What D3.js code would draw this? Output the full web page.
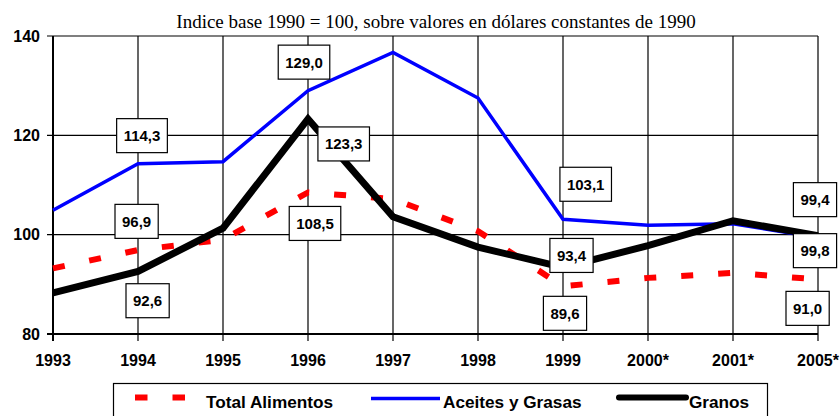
<!DOCTYPE html>
<html><head><meta charset="utf-8">
<script src="https://cdn.jsdelivr.net/npm/d3@7"></script>
<style>body{margin:0;background:#fff}svg{display:block}</style>
</head><body>
<script>
const categories = ["1993","1994","1995","1996","1997","1998","1999","2000*","2001*","2005*"];
const totalAlimentos = [93.2, 96.9, 99.0, 108.5, 107.2, 100.7, 89.6, 91.3, 92.3, 91.0];
const aceitesGrasas  = [104.9, 114.3, 114.7, 129.0, 136.7, 127.5, 103.1, 101.9, 102.2, 99.4];
const granos         = [88.3, 92.6, 101.3, 123.3, 103.6, 97.5, 93.4, 97.8, 102.8, 99.8];
const yTicks = [80, 100, 120, 140];
const title = "Indice base 1990 = 100, sobre valores en dólares constantes de 1990";
const seriesNames = ["Total Alimentos", "Aceites y Grasas", "Granos"];
// indices of labelled points for each series
const labelIdx = [1, 3, 6, 9];
// label box offsets (px) from the point, layout only
const labelOffsets = {
  "Total Alimentos": [[-1.4,-28.7],[7,31],[2,27],[-10.4,29]],
  "Aceites y Grasas": [[4,-28],[-4,-28.5],[22.7,-35],[-3,-38]],
  "Granos": [[9.6,29.3],[35.7,25],[8.5,-12],[-3,15]]
};

const W = 840, H = 416;
const m = {left: 53, right: 22, top: 36, bottom: 82};
const svg = d3.select("body").append("svg").attr("width", W).attr("height", H);

const x = d3.scalePoint().domain(categories).range([m.left, W - m.right]);
const y = d3.scaleLinear().domain([80, 140]).range([H - m.bottom, m.top]);

// title
svg.append("text").attr("x", 436).attr("y", 28).attr("text-anchor", "middle")
  .attr("font-family", "Liberation Serif, Times New Roman, serif").attr("font-size", 19)
  .text(title);

// grid
const g = svg.append("g");
g.selectAll("line.v").data(categories).join("line")
  .attr("x1", d => x(d)).attr("x2", d => x(d))
  .attr("y1", y(140)).attr("y2", y(80) + 7)
  .attr("stroke", "#000").attr("stroke-width", 1.2);
g.selectAll("line.h").data(yTicks).join("line")
  .attr("x1", m.left - 6).attr("x2", x(categories[categories.length-1]))
  .attr("y1", d => y(d)).attr("y2", d => y(d))
  .attr("stroke", "#000").attr("stroke-width", d => d === 80 ? 2 : 1.2);
// left axis
g.append("line").attr("x1", m.left).attr("x2", m.left).attr("y1", y(140)).attr("y2", y(80)+7)
  .attr("stroke", "#000").attr("stroke-width", 2);

// axis labels
svg.selectAll("text.yl").data(yTicks).join("text")
  .attr("x", 40).attr("y", d => y(d)).attr("dy", "0.36em").attr("text-anchor", "end")
  .attr("font-family", "Liberation Sans, Arial, sans-serif").attr("font-weight", "bold").attr("font-size", 16)
  .text(d => d);
svg.selectAll("text.xl").data(categories).join("text")
  .attr("x", d => x(d)).attr("y", 366).attr("text-anchor", "middle")
  .attr("font-family", "Liberation Sans, Arial, sans-serif").attr("font-weight", "bold").attr("font-size", 16)
  .text(d => d);

const line = d3.line().x((d, i) => x(categories[i])).y(d => y(d));
svg.append("path").datum(totalAlimentos).attr("d", line).attr("fill", "none")
  .attr("stroke", "#ff0000").attr("stroke-width", 6).attr("stroke-dasharray", "12,25");
svg.append("path").datum(aceitesGrasas).attr("d", line).attr("fill", "none")
  .attr("stroke", "#0000ff").attr("stroke-width", 3.5).attr("stroke-linejoin", "miter");
svg.append("path").datum(granos).attr("d", line).attr("fill", "none")
  .attr("stroke", "#000").attr("stroke-width", 7).attr("stroke-linejoin", "miter");

// data labels
const seriesVals = {"Total Alimentos": totalAlimentos, "Aceites y Grasas": aceitesGrasas, "Granos": granos};
seriesNames.forEach(name => {
  const vals = seriesVals[name];
  labelIdx.forEach((idx, k) => {
    const [dx, dy] = labelOffsets[name][k];
    const cx = x(categories[idx]) + dx, cy = y(vals[idx]) + dy;
    const lg = svg.append("g");
    const rect = lg.append("rect").attr("fill", "#fff").attr("stroke", "#000").attr("stroke-width", 1.2);
    const t = lg.append("text").attr("x", cx).attr("y", cy).attr("dy", "0.36em").attr("text-anchor", "middle")
      .attr("font-family", "Liberation Sans, Arial, sans-serif").attr("font-weight", "bold").attr("font-size", 15)
      .text(d3.format(".1f")(vals[idx]).replace(".", ","));
    const tw = t.node().getComputedTextLength();
    const bw = tw + 14, bh = 34;
    rect.attr("x", cx - bw/2).attr("y", cy - bh/2).attr("width", bw).attr("height", bh);
  });
});

// legend
const leg = svg.append("g");
leg.append("rect").attr("x", 113.5).attr("y", 383.5).attr("width", 654).attr("height", 40)
  .attr("fill", "#fff").attr("stroke", "#000").attr("stroke-width", 1.2);
leg.append("line").attr("x1", 135).attr("x2", 186).attr("y1", 397.5).attr("y2", 397.5)
  .attr("stroke", "#ff0000").attr("stroke-width", 6).attr("stroke-dasharray", "12.5,25");
leg.append("line").attr("x1", 371).attr("x2", 440).attr("y1", 398.5).attr("y2", 398.5)
  .attr("stroke", "#0000ff").attr("stroke-width", 3.5);
leg.append("line").attr("x1", 619).attr("x2", 686).attr("y1", 397.5).attr("y2", 397.5)
  .attr("stroke", "#000").attr("stroke-width", 6).attr("stroke-linecap", "round");
const legX = [206, 443, 689];
leg.selectAll("text").data(seriesNames).join("text")
  .attr("x", (d, i) => legX[i]).attr("y", 408)
  .attr("font-family", "Liberation Sans, Arial, sans-serif").attr("font-weight", "bold").attr("font-size", 17.2)
  .text(d => d);
</script>
</body></html>
